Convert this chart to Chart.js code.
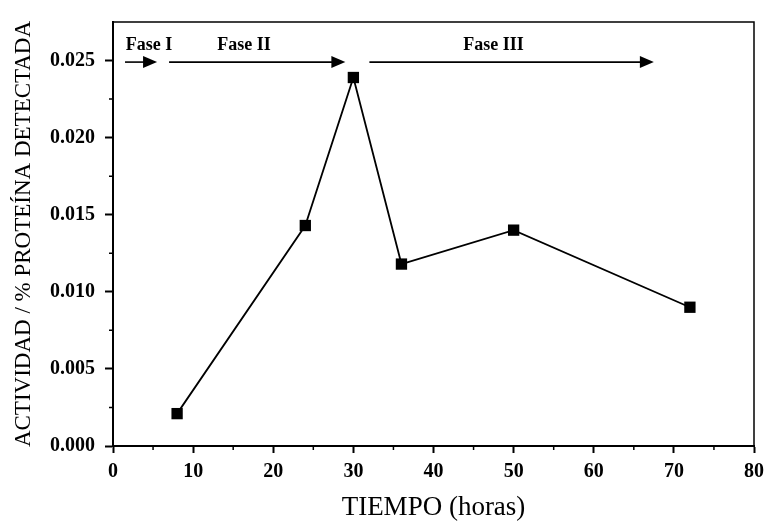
<!DOCTYPE html>
<html>
<head>
<meta charset="utf-8">
<script src="https://cdn.jsdelivr.net/npm/chart.js@4"></script>
<style>
  html, body { margin: 0; padding: 0; background: #fff; }
  #chart { display: block; }
</style>
</head>
<body>
<canvas id="chart" width="771" height="521"></canvas>
<script>
// Measured activity per detected protein over time
const hours = [8, 24, 30, 36, 50, 72];
const activity = [0.0021, 0.0143, 0.0239, 0.0118, 0.0140, 0.0090];

const xTicks = [0, 10, 20, 30, 40, 50, 60, 70, 80];
const yTicks = [0, 0.005, 0.010, 0.015, 0.020, 0.025];

// Phase arrows along the top of the plot (data units)
const phaseNames = ['Fase I', 'Fase II', 'Fase III'];
const phaseFrom = [1.5, 7.0, 32.0];
const phaseTo = [5.5, 29.0, 67.5];
const phaseTextX = [1.6, 13.0, 43.7];
const phaseArrowY = 0.0249;
const phaseTextY = 0.0260;

const serif = '"Liberation Serif", "DejaVu Serif", serif';

const decorations = {
  id: 'decorations',
  afterDraw(chart) {
    const { ctx, chartArea: a, scales: { x, y } } = chart;
    ctx.save();
    ctx.strokeStyle = '#000';
    ctx.fillStyle = '#000';

    // box around the plot
    ctx.lineWidth = 1.5;
    ctx.strokeRect(a.left, a.top, a.right - a.left, a.bottom - a.top);

    // minor ticks
    ctx.lineWidth = 1.5;
    ctx.beginPath();
    for (let v = 5; v < 80; v += 10) {
      const px = x.getPixelForValue(v);
      ctx.moveTo(px, a.bottom);
      ctx.lineTo(px, a.bottom + 4);
    }
    for (let v = 0.0025; v < 0.0275; v += 0.005) {
      const py = y.getPixelForValue(v);
      ctx.moveTo(a.left, py);
      ctx.lineTo(a.left - 4, py);
    }
    ctx.stroke();

    // phase arrows and labels
    const ay = y.getPixelForValue(phaseArrowY);
    const ty = y.getPixelForValue(phaseTextY);
    ctx.font = 'bold 18px ' + serif;
    ctx.textAlign = 'left';
    ctx.textBaseline = 'middle';
    phaseNames.forEach((name, i) => {
      const x0 = x.getPixelForValue(phaseFrom[i]);
      const x1 = x.getPixelForValue(phaseTo[i]);
      const head = 14;
      ctx.lineWidth = 1.6;
      ctx.beginPath();
      ctx.moveTo(x0, ay);
      ctx.lineTo(x1 - head + 1, ay);
      ctx.stroke();
      ctx.beginPath();
      ctx.moveTo(x1, ay);
      ctx.lineTo(x1 - head, ay - 6);
      ctx.lineTo(x1 - head, ay + 6);
      ctx.closePath();
      ctx.fill();
      ctx.fillText(name, x.getPixelForValue(phaseTextX[i]), ty);
    });
    ctx.restore();
  }
};

new Chart(document.getElementById('chart'), {
  type: 'line',
  data: {
    datasets: [{
      data: hours.map((h, i) => ({ x: h, y: activity[i] })),
      borderColor: '#000',
      borderWidth: 1.8,
      backgroundColor: '#000',
      pointStyle: 'rect',
      pointRadius: 8,
      pointBorderWidth: 0,
      fill: false,
      tension: 0
    }]
  },
  options: {
    responsive: false,
    animation: false,
    layout: { padding: { left: 0, top: 13, right: 12, bottom: 0 } },
    plugins: { legend: { display: false }, tooltip: { enabled: false } },
    scales: {
      x: {
        type: 'linear',
        min: 0,
        max: 80,
        afterBuildTicks: s => { s.ticks = xTicks.map(v => ({ value: v })); },
        afterFit: s => { s.height = 75; },
        border: { color: '#000', width: 2 },
        grid: { drawOnChartArea: false, drawTicks: true, tickLength: 7, tickColor: '#000', tickWidth: 2 },
        ticks: {
          color: '#000',
          padding: 7,
          maxRotation: 0,
          font: { family: serif, size: 20, weight: 'bold' }
        },
        title: {
          display: true,
          text: 'TIEMPO (horas)',
          color: '#000',
          padding: 0,
          font: { family: serif, size: 27, lineHeight: 1.0 }
        }
      },
      y: {
        type: 'linear',
        min: 0,
        max: 0.0275,
        afterBuildTicks: s => { s.ticks = yTicks.map(v => ({ value: v })); },
        afterFit: s => { s.width = 113; },
        border: { color: '#000', width: 2 },
        grid: { drawOnChartArea: false, drawTicks: true, tickLength: 8, tickColor: '#000', tickWidth: 2 },
        ticks: {
          color: '#000',
          padding: 10,
          callback: v => v.toFixed(3),
          font: { family: serif, size: 20, weight: 'bold' }
        },
        title: {
          display: true,
          text: 'ACTIVIDAD / % PROTEÍNA DETECTADA',
          color: '#000',
          padding: { top: 10, bottom: 0 },
          font: { family: serif, size: 23 }
        }
      }
    }
  },
  plugins: [decorations]
});
</script>
</body>
</html>
